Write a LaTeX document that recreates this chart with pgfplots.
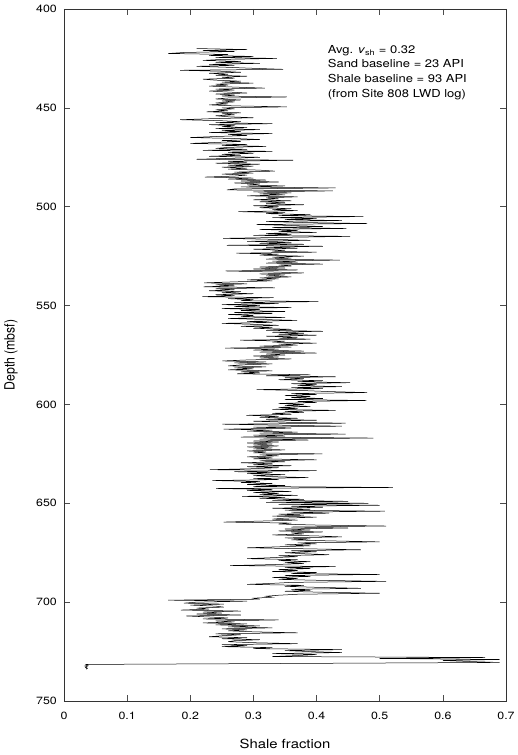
\documentclass[border=0pt]{standalone}
\usepackage{fontspec}
\setmainfont{TeX Gyre Heros}[FakeStretch=1.18]
\newfontfamily\plainfont{TeX Gyre Heros}
\usepackage{graphicx}
\usepackage{pgfplots}
\pgfplotsset{compat=1.18}
\usetikzlibrary{calc}
\begin{document}
\begin{tikzpicture}
\begin{axis}[
  width=442bp, height=692bp, scale only axis,
  xmin=0, xmax=0.7, ymin=400, ymax=750, y dir=reverse,
  xtick={0,0.1,0.2,0.3,0.4,0.5,0.6,0.7},
  ytick={400,450,500,550,600,650,700,750},
  tick align=inside, major tick length=6bp,
  axis line style={line width=0.6bp, black!80},
  every tick/.style={line width=0.6bp, black!70},
  /pgf/number format/assume math mode=true,
  ticklabel style={font=\fontsize{10.5bp}{12bp}\selectfont, inner sep=0pt},
  xticklabel style={anchor=north, yshift=-10.5bp},
  yticklabel style={anchor=east, xshift=-7bp},
  every axis x label/.style={at={(axis description cs:0.5,-0.0614)}, anchor=center, inner sep=0pt, font=\fontsize{12.6bp}{14bp}\selectfont},
  every axis y label/.style={at={(axis description cs:-0.12,0.5)}, anchor=center, rotate=90, inner sep=0pt, font=\plainfont\fontsize{12.3bp}{14bp}\selectfont},
  xlabel={Shale fraction},
  ylabel={\scalebox{1}[1.15]{Depth (mbsf)}},
]
\addplot[line width=0.5bp, black] coordinates {
(0.21,420) (0.29,420.5) (0.22,421) (0.27,421.5) (0.19,422) (0.165,422.5) (0.26,423) (0.23,423.5) (0.30,424) (0.24,424.5)
(0.337,425) (0.25,425.5) (0.22,426) (0.28,426.5) (0.24,427) (0.31,427.5) (0.23,428) (0.27,428.5) (0.21,429) (0.26,429.5)
(0.30,430) (0.347,430.5) (0.184,431) (0.25,431.5) (0.28,432) (0.23,432.5) (0.26,433) (0.24,433.5) (0.29,434) (0.25,434.5)
(0.27,435) (0.22,435.5) (0.24,436) (0.28,436.5) (0.25,437) (0.30,437.5) (0.24,438) (0.26,438.5) (0.23,439) (0.27,439.5)
(0.318,440) (0.24,440.5) (0.27,441) (0.23,441.5) (0.26,442) (0.29,442.5) (0.24,443) (0.27,443.5) (0.25,444) (0.353,444.5)
(0.26,445) (0.24,445.5) (0.28,446) (0.25,446.5) (0.27,447) (0.24,447.5) (0.26,448) (0.23,448.5) (0.27,449) (0.353,449.5)
(0.25,450) (0.27,450.5) (0.24,451) (0.26,451.5) (0.226,452) (0.28,452.5) (0.25,453) (0.27,453.5) (0.24,454) (0.26,454.5)
(0.30,455) (0.23,455.5) (0.184,456) (0.25,456.5) (0.28,457) (0.24,457.5) (0.33,458) (0.23,458.5) (0.27,459) (0.25,459.5)
(0.29,460) (0.24,460.5) (0.31,461) (0.25,461.5) (0.28,462) (0.23,462.5) (0.33,463) (0.26,463.5) (0.29,464) (0.24,464.5)
(0.20,465) (0.27,465.5) (0.31,466) (0.25,466.5) (0.28,467) (0.24,467.5) (0.20,468) (0.29,468.5) (0.25,469) (0.32,469.5)
(0.26,470) (0.24,470.5) (0.29,471) (0.22,471.5) (0.33,472) (0.26,472.5) (0.30,473) (0.25,473.5) (0.28,474) (0.23,474.5)
(0.31,475) (0.27,475.5) (0.21,476) (0.363,476.5) (0.26,477) (0.29,477.5) (0.24,478) (0.31,478.5) (0.26,479) (0.30,479.5)
(0.25,480) (0.29,480.5) (0.26,481) (0.31,481.5) (0.334,482) (0.27,482.5) (0.30,483) (0.25,483.5) (0.29,484) (0.27,484.5)
(0.223,485) (0.30,485.5) (0.26,486) (0.32,486.5) (0.28,487) (0.34,487.5) (0.27,488) (0.31,488.5) (0.29,489) (0.35,489.5)
(0.28,490) (0.43,490.5) (0.27,491) (0.258,491.5) (0.426,492) (0.30,492.5) (0.36,493) (0.31,493.5) (0.35,494) (0.29,494.5)
(0.37,495) (0.32,495.5) (0.34,496) (0.30,496.5) (0.36,497) (0.31,497.5) (0.35,498) (0.32,498.5) (0.38,499) (0.30,499.5)
(0.34,500) (0.31,500.5) (0.36,501) (0.33,501.5) (0.37,502) (0.276,502.5) (0.35,503) (0.32,503.5) (0.39,504) (0.34,504.5)
(0.474,505) (0.33,505.5) (0.40,506) (0.35,506.5) (0.44,507) (0.32,507.5) (0.38,508) (0.48,508.5) (0.305,509) (0.36,509.5)
(0.41,510) (0.33,510.5) (0.447,511) (0.31,511.5) (0.37,512) (0.34,512.5) (0.40,513) (0.32,513.5) (0.36,514) (0.30,514.5)
(0.453,515) (0.35,515.5) (0.252,516) (0.33,516.5) (0.39,517) (0.29,517.5) (0.36,518) (0.31,518.5) (0.38,519) (0.258,519.5)
(0.41,520) (0.32,520.5) (0.37,521) (0.30,521.5) (0.35,522) (0.33,522.5) (0.40,523) (0.273,523.5) (0.34,524) (0.31,524.5)
(0.38,525) (0.33,525.5) (0.36,526) (0.32,526.5) (0.437,527) (0.33,527.5) (0.37,528) (0.32,528.5) (0.41,529) (0.34,529.5)
(0.36,530) (0.31,530.5) (0.35,531) (0.30,531.5) (0.37,532) (0.256,532.5) (0.33,533) (0.38,533.5) (0.31,534) (0.35,534.5)
(0.32,535) (0.36,535.5) (0.31,536) (0.34,536.5) (0.29,537) (0.33,537.5) (0.27,538) (0.222,538.5) (0.29,539) (0.24,539.5)
(0.27,540) (0.221,540.5) (0.334,541) (0.24,541.5) (0.27,542) (0.23,542.5) (0.28,543) (0.25,543.5) (0.30,544) (0.24,544.5)
(0.27,545) (0.219,545.5) (0.332,546) (0.26,546.5) (0.30,547) (0.28,547.5) (0.403,548) (0.27,548.5) (0.34,549) (0.25,549.5)
(0.31,550) (0.27,550.5) (0.36,551) (0.25,551.5) (0.31,552) (0.28,552.5) (0.35,553) (0.27,553.5) (0.33,554) (0.26,554.5)
(0.30,555) (0.28,555.5) (0.35,556) (0.26,556.5) (0.31,557) (0.369,557.5) (0.29,558) (0.33,558.5) (0.25,559) (0.30,559.5)
(0.34,560) (0.28,560.5) (0.33,561) (0.30,561.5) (0.36,562) (0.32,562.5) (0.41,563) (0.33,563.5) (0.38,564) (0.34,564.5)
(0.40,565) (0.32,565.5) (0.37,566) (0.34,566.5) (0.39,567) (0.279,567.5) (0.35,568) (0.33,568.5) (0.40,569) (0.34,569.5)
(0.37,570) (0.31,570.5) (0.36,571) (0.255,571.5) (0.34,572) (0.30,572.5) (0.38,573) (0.31,573.5) (0.40,574) (0.32,574.5)
(0.35,575) (0.30,575.5) (0.34,576) (0.31,576.5) (0.36,577) (0.29,577.5) (0.251,578) (0.32,578.5) (0.27,579) (0.33,579.5)
(0.28,580) (0.26,580.5) (0.32,581) (0.27,581.5) (0.30,582) (0.26,582.5) (0.33,583) (0.28,583.5) (0.31,584) (0.274,584.5)
(0.39,585) (0.32,585.5) (0.43,586) (0.35,586.5) (0.38,587) (0.34,587.5) (0.41,588) (0.37,588.5) (0.453,589) (0.36,589.5)
(0.40,590) (0.37,590.5) (0.44,591) (0.36,591.5) (0.41,592) (0.305,592.5) (0.38,593) (0.42,593.5) (0.48,594) (0.36,594.5)
(0.40,595) (0.35,595.5) (0.39,596) (0.36,596.5) (0.41,597) (0.35,597.5) (0.479,598) (0.37,598.5) (0.40,599) (0.34,599.5)
(0.38,600) (0.35,600.5) (0.39,601) (0.34,601.5) (0.37,602) (0.33,602.5) (0.43,603) (0.35,603.5) (0.38,604) (0.33,604.5)
(0.36,605) (0.289,605.5) (0.34,606) (0.31,606.5) (0.37,607) (0.32,607.5) (0.40,608) (0.30,608.5) (0.35,609) (0.446,609.5)
(0.251,610) (0.34,610.5) (0.44,611) (0.30,611.5) (0.36,612) (0.253,612.5) (0.33,613) (0.29,613.5) (0.37,614) (0.31,614.5)
(0.446,615) (0.30,615.5) (0.35,616) (0.28,616.5) (0.49,617) (0.31,617.5) (0.387,618) (0.30,618.5) (0.34,619) (0.29,619.5)
(0.33,620) (0.30,620.5) (0.34,621) (0.29,621.5) (0.33,622) (0.30,622.5) (0.35,623) (0.29,623.5) (0.32,624) (0.30,624.5)
(0.409,625) (0.31,625.5) (0.34,626) (0.29,626.5) (0.33,627) (0.30,627.5) (0.40,628) (0.31,628.5) (0.35,629) (0.28,629.5)
(0.33,630) (0.30,630.5) (0.36,631) (0.29,631.5) (0.34,632) (0.30,632.5) (0.231,633) (0.40,633.5) (0.27,634) (0.33,634.5)
(0.29,635) (0.35,635.5) (0.30,636) (0.33,636.5) (0.387,637) (0.30,637.5) (0.34,638) (0.235,638.5) (0.31,639) (0.28,639.5)
(0.33,640) (0.29,640.5) (0.35,641) (0.30,641.5) (0.521,642) (0.241,642.5) (0.33,643) (0.29,643.5) (0.36,644) (0.30,644.5)
(0.34,645) (0.31,645.5) (0.37,646) (0.282,646.5) (0.35,647) (0.31,647.5) (0.38,648) (0.33,648.5) (0.45,649) (0.32,649.5)
(0.482,650) (0.34,650.5) (0.50,651) (0.36,651.5) (0.41,652) (0.33,652.5) (0.39,653) (0.35,653.5) (0.508,654) (0.36,654.5)
(0.42,655) (0.34,655.5) (0.38,656) (0.33,656.5) (0.40,657) (0.35,657.5) (0.33,658) (0.37,658.5) (0.31,659) (0.253,659.5)
(0.36,660) (0.34,660.5) (0.40,661) (0.51,661.5) (0.36,662) (0.45,662.5) (0.35,663) (0.39,663.5) (0.34,664) (0.41,664.5)
(0.36,665) (0.38,665.5) (0.33,666) (0.40,666.5) (0.44,667) (0.35,667.5) (0.39,668) (0.36,668.5) (0.42,669) (0.50,669.5)
(0.37,670) (0.40,670.5) (0.35,671) (0.39,671.5) (0.34,672) (0.29,672.5) (0.38,673) (0.47,673.5) (0.36,674) (0.40,674.5)
(0.35,675) (0.38,675.5) (0.42,676) (0.34,676.5) (0.37,677) (0.33,677.5) (0.29,678) (0.37,678.5) (0.34,679) (0.39,679.5)
(0.35,680) (0.38,680.5) (0.33,681) (0.263,681.5) (0.43,682) (0.35,682.5) (0.39,683) (0.34,683.5) (0.37,684) (0.33,684.5)
(0.40,685) (0.36,685.5) (0.50,686) (0.35,686.5) (0.39,687) (0.33,687.5) (0.37,688) (0.34,688.5) (0.41,689) (0.51,689.5)
(0.36,690) (0.33,690.5) (0.29,691) (0.38,691.5) (0.35,692) (0.40,692.5) (0.47,693) (0.36,693.5) (0.39,694) (0.35,694.5)
(0.41,695) (0.50,695.5) (0.37,696) (0.34,696.5) (0.32,697) (0.33,697.5) (0.30,698) (0.31,698.5) (0.165,699) (0.29,699.5)
(0.21,700) (0.19,700.5) (0.253,701) (0.20,701.5) (0.24,702) (0.253,702.5) (0.21,703) (0.23,703.5) (0.185,704) (0.28,704.5)
(0.22,705) (0.25,705.5) (0.21,706) (0.28,706.5) (0.194,707) (0.23,707.5) (0.26,708) (0.22,708.5) (0.34,709) (0.24,709.5)
(0.27,710) (0.22,710.5) (0.29,711) (0.24,711.5) (0.31,712) (0.26,712.5) (0.33,713) (0.25,713.5) (0.29,714) (0.26,714.5)
(0.30,715) (0.37,715.5) (0.24,716) (0.28,716.5) (0.25,717) (0.23,717.5) (0.29,718) (0.25,718.5) (0.31,719) (0.27,719.5)
(0.26,720) (0.30,720.5) (0.37,721) (0.25,721.5) (0.29,722) (0.25,722.5) (0.33,723) (0.30,723.5) (0.44,724) (0.35,724.5)
(0.39,725) (0.44,725.5) (0.33,726) (0.40,726.5) (0.37,727) (0.33,727.5) (0.667,728) (0.50,728.5) (0.69,729) (0.60,729.5)
(0.64,730) (0.69,730.5) (0.035,731.5) (0.038,731.9) (0.033,732.3) (0.037,732.7) (0.034,733.1) (0.037,733.5) (0.035,733.9)
};
\node[anchor=north west, align=left, inner sep=0pt, font=\fontsize{11bp}{14.7bp}\selectfont] at (axis cs:0.4176,418.2)
  {Avg. \textit{v}\textsubscript{sh} = 0.32\\Sand baseline = 23 API\\Shale baseline = 93 API\\(from Site 808 LWD log)};
\end{axis}
\path ($(current axis.south west)+(-64bp,-54bp)$) rectangle ($(current axis.north east)+(12bp,9bp)$);
\end{tikzpicture}
\end{document}
